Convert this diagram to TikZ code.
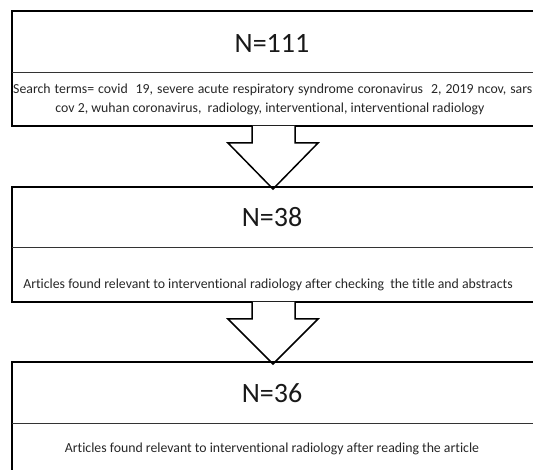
\documentclass[tikz,border=0pt]{standalone}
\usepackage{fontspec}
\setmainfont[Ligatures=NoCommon]{Carlito}
\begin{document}
\begin{tikzpicture}[x=1pt,y=-1pt,
  outer/.style={draw=black,line width=1.8pt},
  divider/.style={draw=black!80,line width=1pt},
  bigarrow/.style={draw=black,fill=white,line width=1.5pt,line join=miter},
  count/.style={font=\fontsize{28}{32}\selectfont,inner sep=0pt,text=black!90},
  desc/.style={font=\fontsize{13.8}{19}\selectfont,inner sep=0pt,align=center,text=black!85}]
\useasboundingbox (0,0) rectangle (533,470);
\clip (0,0) rectangle (533,470);
% box 1
\coordinate (b1tl) at (12,11);
\coordinate (b1br) at (545,126);
\draw[outer] (b1tl) rectangle (b1br);
\draw[divider] (12,73) -- (545,73);
\node[count] (n1) at (272,43) {N=111};
\node[desc,anchor=west] (t1a) at (13,90) {\spaceskip=4pt plus 1pt Search terms= covid~ 19, severe acute respiratory syndrome coronavirus~ 2, 2019 ncov, sars};
\node[desc] (t1b) at (270,109) {cov 2, wuhan coronavirus,~ radiology, interventional, interventional radiology};
% arrow 1
\draw[bigarrow] (252,126) -- (252,143) -- (228,143) -- (273,189) -- (318,143) -- (295,143) -- (295,126);
% box 2
\draw[outer] (12,187) rectangle (545,302);
\draw[divider] (12,248) -- (545,248);
\node[count] (n2) at (272,217) {N=38};
\node[desc] (t2) at (268,285) {Articles found relevant to interventional radiology after checking~ the title and abstracts};
% arrow 2
\draw[bigarrow] (252,302) -- (252,319) -- (228,319) -- (273,364) -- (318,319) -- (295,319) -- (295,302);
% box 3
\draw[outer] (12,362) rectangle (545,480);
\draw[divider] (12,423) -- (545,423);
\node[count] (n3) at (272,393) {N=36};
\node[desc] (t3) at (272,449) {Articles found relevant to interventional radiology after reading the article};
\end{tikzpicture}
\end{document}
